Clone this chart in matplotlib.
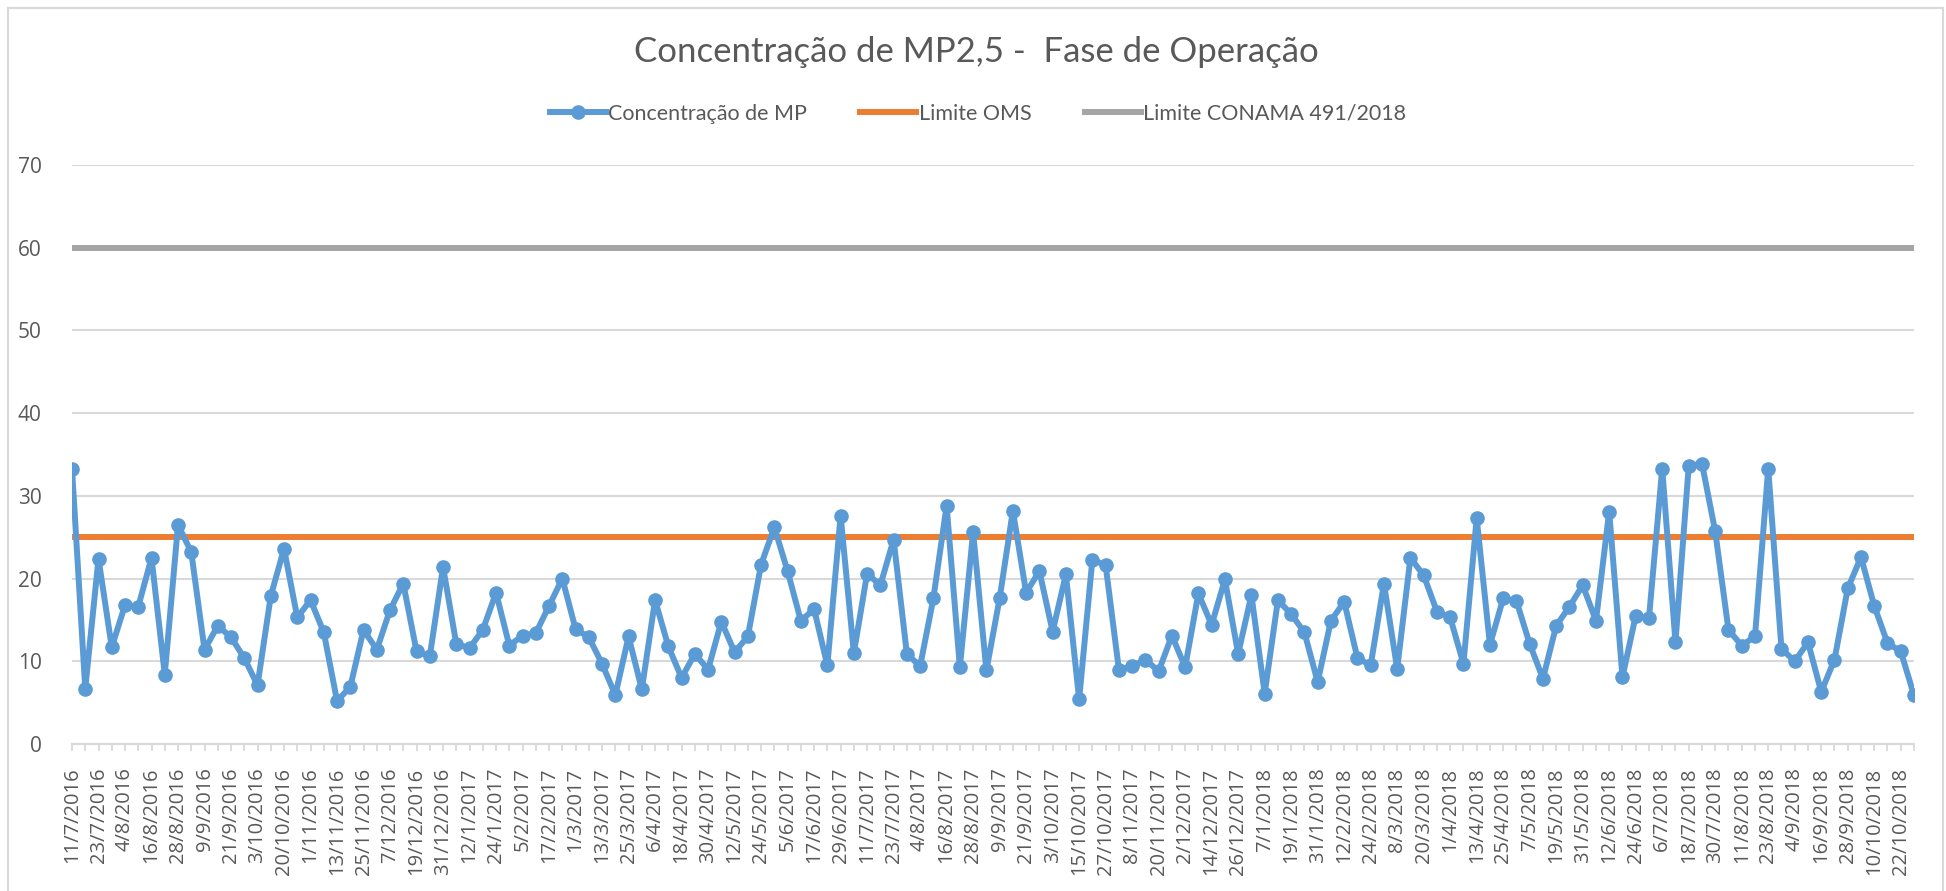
import matplotlib
matplotlib.use("Agg")
import matplotlib.pyplot as plt
from matplotlib.lines import Line2D
from matplotlib.patches import Rectangle

# ---------------- data ----------------
date_labels = ["11/7/2016","23/7/2016","4/8/2016","16/8/2016","28/8/2016","9/9/2016","21/9/2016",
               "3/10/2016","20/10/2016","1/11/2016","13/11/2016","25/11/2016","7/12/2016","19/12/2016",
               "31/12/2016","12/1/2017","24/1/2017","5/2/2017","17/2/2017","1/3/2017","13/3/2017",
               "25/3/2017","6/4/2017","18/4/2017","30/4/2017","12/5/2017","24/5/2017","5/6/2017",
               "17/6/2017","29/6/2017","11/7/2017","23/7/2017","4/8/2017","16/8/2017","28/8/2017",
               "9/9/2017","21/9/2017","3/10/2017","15/10/2017","27/10/2017","8/11/2017","20/11/2017",
               "2/12/2017","14/12/2017","26/12/2017","7/1/2018","19/1/2018","31/1/2018","12/2/2018",
               "24/2/2018","8/3/2018","20/3/2018","1/4/2018","13/4/2018","25/4/2018","7/5/2018",
               "19/5/2018","31/5/2018","12/6/2018","24/6/2018","6/7/2018","18/7/2018","30/7/2018",
               "11/8/2018","23/8/2018","4/9/2018","16/9/2018","28/9/2018","10/10/2018","22/10/2018"]

concentracao = [33.3, 6.7, 22.4, 11.7, 16.8, 16.6, 22.5, 8.4, 26.5, 23.2,
                11.4, 14.3, 12.9, 10.4, 7.1, 17.9, 23.6, 15.3, 17.4, 13.5,
                5.2, 6.9, 13.8, 11.4, 16.2, 19.4, 11.2, 10.6, 21.4, 12.1,
                11.6, 13.8, 18.3, 11.9, 13.1, 13.4, 16.7, 20.0, 13.9, 12.9,
                9.7, 5.9, 13.0, 6.6, 17.4, 11.8, 8.0, 10.9, 9.0, 14.8,
                11.1, 13.0, 21.7, 26.2, 20.9, 14.9, 16.3, 9.5, 27.6, 11.0,
                20.6, 19.2, 24.7, 10.9, 9.4, 17.6, 28.8, 9.3, 25.6, 8.9,
                17.6, 28.2, 18.3, 20.9, 13.6, 20.5, 5.4, 22.3, 21.6, 9.0,
                9.4, 10.2, 8.8, 13.1, 9.3, 18.2, 14.4, 19.9, 10.9, 18.0,
                6.1, 17.4, 15.7, 13.5, 7.5, 14.9, 17.2, 10.4, 9.5, 19.4,
                9.1, 22.5, 20.4, 16.0, 15.3, 9.7, 27.3, 12.0, 17.6, 17.3,
                12.1, 7.9, 14.3, 16.6, 19.2, 14.9, 28.1, 8.1, 15.5, 15.2,
                33.3, 12.3, 33.6, 33.9, 25.7, 13.8, 11.9, 13.0, 33.3, 11.5,
                10.0, 12.3, 6.3, 10.2, 18.8, 22.6, 16.7, 12.2, 11.2, 5.9]

limite_oms = 25
limite_conama = 60

title = "Concentração de MP2,5 -  Fase de Operação"
series_names = ["Concentração de MP", "Limite OMS", "Limite CONAMA 491/2018"]
y_ticks = [0, 10, 20, 30, 40, 50, 60, 70]

# ---------------- style ----------------
BLUE = "#5B9BD5"
ORANGE = "#ED7D31"
GRAY = "#A5A5A5"
GRID = "#D9D9D9"
TXT = "#595959"
FONT = ["Open Sans", "DejaVu Sans"]

W, H = 1946, 891
fig = plt.figure(figsize=(W / 100, H / 100), dpi=100)
fig.patch.set_facecolor("white")

left, right = 72 / W, 1914 / W
bottom, top = (H - 744) / H, (H - 165) / H
ax = fig.add_axes([left, bottom, right - left, top - bottom])

n = len(concentracao)
x = list(range(n))

ax.plot(x, [limite_conama] * n, color=GRAY, lw=4.3, solid_capstyle="butt", zorder=3)
ax.plot(x, [limite_oms] * n, color=ORANGE, lw=4.3, solid_capstyle="butt", zorder=3)
ax.plot(x, concentracao, color=BLUE, lw=4.3, marker="o", markersize=9.5,
        markerfacecolor=BLUE, markeredgecolor=BLUE, zorder=4, solid_joinstyle="round")

ax.set_xlim(0, n - 1)
ax.set_ylim(0, 70)
ax.set_yticks(y_ticks)
ax.set_yticklabels([str(v) for v in y_ticks])
ax.yaxis.grid(True, color=GRID, lw=1.5, zorder=0)
ax.set_axisbelow(True)

label_pos = list(range(0, n, 2))[:len(date_labels)]
ax.set_xticks(label_pos)
ax.set_xticklabels(date_labels, rotation=90, ha="center", va="top")
ax.set_xticks(x, minor=True)

for s in ["top", "right", "left"]:
    ax.spines[s].set_visible(False)
ax.spines["bottom"].set_color(GRID)
ax.spines["bottom"].set_linewidth(1.5)
ax.spines["bottom"].set_zorder(1)

ax.tick_params(axis="y", length=0, pad=22, labelsize=15, labelcolor=TXT)
ax.tick_params(axis="x", which="major", length=5, width=1.3, color=GRID, pad=12,
               labelsize=14.5, labelcolor=TXT)
ax.tick_params(axis="x", which="minor", length=5, width=1.3, color=GRID)
for lab in ax.get_xticklabels() + ax.get_yticklabels():
    lab.set_fontfamily(FONT)

fig.text(0.5015, 1 - 52 / H, title, ha="center", va="center", fontsize=25,
         color=TXT, family=["Lato", "DejaVu Sans"])

handles = [
    Line2D([], [], color=BLUE, lw=4.3, marker="o", markersize=9.5),
    Line2D([], [], color=ORANGE, lw=4.3),
    Line2D([], [], color=GRAY, lw=4.3),
]
leg = fig.legend(handles, series_names, loc="center", bbox_to_anchor=(0.5025, 1 - 114 / H),
                 ncol=3, frameon=False, handlelength=2.6, handletextpad=0.1,
                 columnspacing=2.5, prop={"family": ["Lato", "DejaVu Sans"], "size": 15.5})
for t in leg.get_texts():
    t.set_color(TXT)

fig.patches.append(Rectangle((8 / W, -0.05), (1943 - 8) / W, 1.05 - 8 / H,
                             transform=fig.transFigure, fill=False,
                             edgecolor=GRID, lw=1.5, zorder=0))

fig.savefig("out.png", dpi=100, facecolor="white")
